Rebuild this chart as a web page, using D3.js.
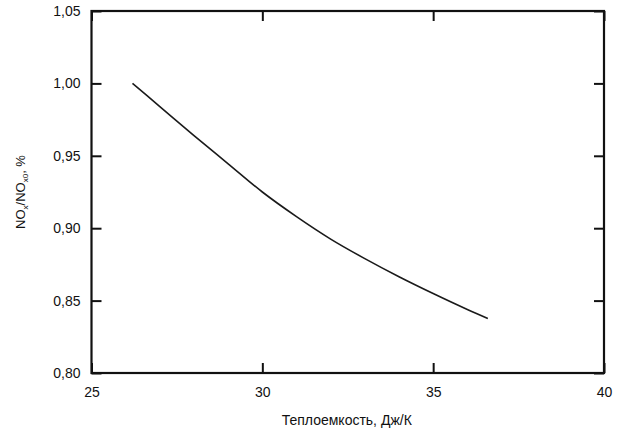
<!DOCTYPE html>
<html>
<head>
<meta charset="utf-8">
<script src="https://cdn.jsdelivr.net/npm/d3@7"></script>
<style>
  body { margin: 0; background: #fff; }
  svg text { font-family: "Liberation Sans", Arial, sans-serif; fill: #111; }
</style>
</head>
<body>
<div id="chart"></div>
<script>
// values
const heatCapacity = [26.2, 27, 28, 29, 30, 31, 32, 33, 34, 35, 36, 36.6];
const noxRatio = [1.0, 0.984, 0.964, 0.9445, 0.925, 0.908, 0.8925, 0.879, 0.8665, 0.8549, 0.8439, 0.8377];
const xTicks = [25, 30, 35, 40];
const yTicks = [0.8, 0.85, 0.9, 0.95, 1.0, 1.05];

const W = 621, H = 433;
const margin = { top: 11, right: 17, bottom: 60, left: 91.5 };
const width = W - margin.left - margin.right;
const height = H - margin.top - margin.bottom;

const svg = d3.select("#chart").append("svg")
  .attr("width", W)
  .attr("height", H);

const g = svg.append("g")
  .attr("transform", `translate(${margin.left},${margin.top})`);

const x = d3.scaleLinear().domain([25, 40]).range([0, width]);
const y = d3.scaleLinear().domain([0.8, 1.05]).range([height, 0]);

const fmt = (d) => d3.format(".2f")(d).replace(".", ",");

// bottom axis with labels, ticks pointing inward
g.append("g")
  .attr("transform", `translate(0,${height})`)
  .call(d3.axisBottom(x).tickValues(xTicks).tickSize(-10).tickPadding(9))
  .call((a) => a.select(".domain").remove())
  .call((a) => a.selectAll(".tick line").attr("stroke", "#111").attr("stroke-width", 2))
  .call((a) => a.selectAll(".tick text").attr("y", 14).attr("font-size", 14));

// top axis, ticks only
g.append("g")
  .call(d3.axisTop(x).tickValues(xTicks).tickSize(-10).tickFormat(""))
  .call((a) => a.select(".domain").remove())
  .call((a) => a.selectAll(".tick line").attr("stroke", "#111").attr("stroke-width", 2));

// left axis
g.append("g")
  .call(d3.axisLeft(y).tickValues(yTicks).tickSize(-10).tickFormat(fmt))
  .call((a) => a.select(".domain").remove())
  .call((a) => a.selectAll(".tick line").attr("stroke", "#111").attr("stroke-width", 2))
  .call((a) => a.selectAll(".tick text").attr("x", -11).attr("font-size", 14));

// right axis, ticks only
g.append("g")
  .attr("transform", `translate(${width},0)`)
  .call(d3.axisRight(y).tickValues(yTicks).tickSize(-10).tickFormat(""))
  .call((a) => a.select(".domain").remove())
  .call((a) => a.selectAll(".tick line").attr("stroke", "#111").attr("stroke-width", 2));

// frame
g.append("rect")
  .attr("width", width)
  .attr("height", height)
  .attr("fill", "none")
  .attr("stroke", "#111")
  .attr("stroke-width", 2.2);

// curve
const pts = heatCapacity.map((c, i) => [c, noxRatio[i]]);
g.append("path")
  .datum(pts)
  .attr("fill", "none")
  .attr("stroke", "#1a1a1a")
  .attr("stroke-width", 1.6)
  .attr("d", d3.line()
    .x((d) => x(d[0]))
    .y((d) => y(d[1]))
    .curve(d3.curveMonotoneX));

// axis titles
svg.append("text")
  .attr("x", margin.left + width / 2 - 1)
  .attr("y", 425)
  .attr("text-anchor", "middle")
  .attr("font-size", 14)
  .text("Теплоемкость, Дж/К");

const yl = svg.append("text")
  .attr("transform", `translate(25,${margin.top + height / 2}) rotate(-90)`)
  .attr("text-anchor", "middle")
  .attr("font-size", 13);
yl.append("tspan").text("NO");
yl.append("tspan").attr("font-size", 8).attr("dy", 3).text("x");
yl.append("tspan").attr("dy", -3).text("/NO");
yl.append("tspan").attr("font-size", 8).attr("dy", 3).text("x0");
yl.append("tspan").attr("dy", -3).text(", %");
</script>
</body>
</html>
